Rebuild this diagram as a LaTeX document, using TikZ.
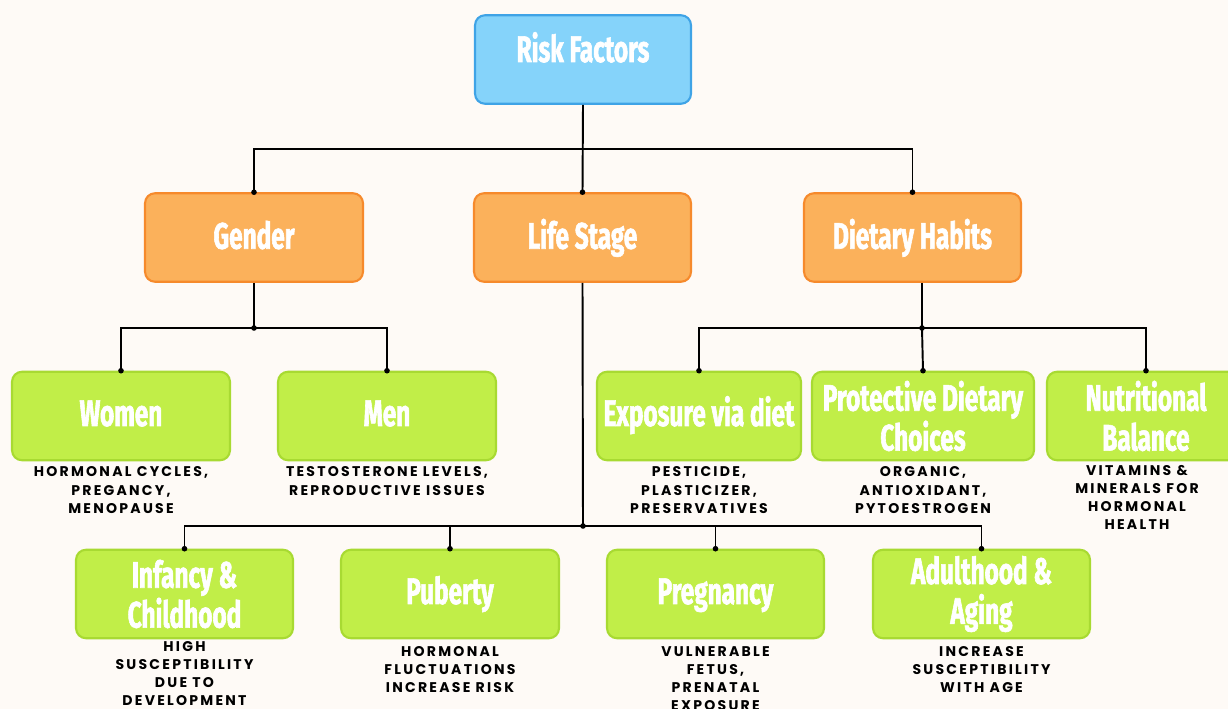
\documentclass[tikz,border=0pt]{standalone}
\usepackage{fontspec}
\newfontfamily\titlefont[FakeStretch=0.66, BoldFeatures={FakeBold=1.6}]{Fira Sans}
\newfontfamily\descfont[LetterSpace=16]{Poppins}

\definecolor{bgcol}{HTML}{FEFAF6}
\definecolor{bluefill}{HTML}{85D3FA}
\definecolor{blueline}{HTML}{3FA3E6}
\definecolor{orangefill}{HTML}{FBB15B}
\definecolor{orangeline}{HTML}{F68A2C}
\definecolor{greenfill}{HTML}{C1EE48}
\definecolor{greenline}{HTML}{A8DA32}

\tikzset{
  box/.style={rounded corners=0.2cm, line width=1.2pt, minimum height=1.77cm,
    align=center, text=white, inner sep=0pt,
    font=\titlefont\bfseries\fontsize{21}{22.7}\selectfont,
    text height=0.5cm, text depth=0.1cm},
  bluebox/.style={box, fill=bluefill, draw=blueline, text depth=0.4cm},
  orangebox/.style={box, fill=orangefill, draw=orangeline, text depth=0.05cm},
  greenbox/.style={box, fill=greenfill, draw=greenline},
  twolines/.style={text height={}, text depth={}},
  desc/.style={align=center, inner sep=0pt,
    font=\descfont\bfseries\fontsize{8}{10.3}\selectfont},
  link/.style={line width=1.1pt, black}
}

\begin{document}
\begin{tikzpicture}[x=0.02cm, y=-0.02cm]
\useasboundingbox (0,0) rectangle (1228,709);
\clip (0,0) rectangle (1228,709);
\fill [bgcol] (0,0) rectangle (1228,709);

% boxes
\node [bluebox, minimum width=4.32cm] (risk) at (583,59.5) {Risk Factors};

\node [orangebox, minimum width=4.36cm] (gender) at (254,237.5) {Gender};
\node [orangebox, minimum width=4.34cm] (life) at (582.5,237.5) {Life Stage};
\node [orangebox, minimum width=4.34cm] (diet) at (912.5,237.5) {Dietary Habits};

\node [greenbox, minimum width=4.36cm] (women) at (121,416) {Women};
\node [greenbox, minimum width=4.36cm] (men) at (387,416) {Men};
\node [greenbox, minimum width=4.08cm] (expo) at (699,416) {Exposure via diet};
\node [greenbox, twolines, minimum width=4.44cm] (prot) at (923,416) {Protective Dietary\\Choices};
\node [greenbox, twolines, minimum width=3.96cm] (nutr) at (1146,416) {Nutritional\\Balance};

\node [greenbox, twolines, minimum width=4.34cm] (infancy) at (184.5,594) {Infancy \&\\Childhood};
\node [greenbox, minimum width=4.36cm] (puberty) at (450,594) {Puberty};
\node [greenbox, minimum width=4.34cm] (pregnancy) at (715.5,594) {Pregnancy};
\node [greenbox, twolines, minimum width=4.34cm] (adult) at (981.5,594) {Adulthood \&\\Aging};

% notes under the boxes
\node [desc, below=3pt] (womennote) at (women.south) {HORMONAL CYCLES,\\PREGANCY,\\MENOPAUSE};
\node [desc, below=3pt] (mennote) at (men.south) {TESTOSTERONE LEVELS,\\REPRODUCTIVE ISSUES};
\node [desc, below=3pt] (exponote) at (expo.south) {PESTICIDE,\\PLASTICIZER,\\PRESERVATIVES};
\node [desc, below=3pt] (protnote) at (prot.south) {ORGANIC,\\ANTIOXIDANT,\\PYTOESTROGEN};
\node [desc, below=3pt] (nutrnote) at (1137,460) {VITAMINS \&\\MINERALS FOR\\HORMONAL\\HEALTH};
\node [desc, below=1pt] (infancynote) at (infancy.south) {HIGH\\SUSCEPTIBILITY\\DUE TO\\DEVELOPMENT};
\node [desc, below=4pt] (pubertynote) at (puberty.south) {HORMONAL\\FLUCTUATIONS\\INCREASE RISK};
\node [desc, below=4pt] (pregnancynote) at (pregnancy.south) {VULNERABLE\\FETUS,\\PRENATAL\\EXPOSURE};
\node [desc, below=4pt] (adultnote) at (adult.south) {INCREASE\\SUSCEPTIBILITY\\WITH AGE};

% connectors
\coordinate (topbus) at (583,149);
\coordinate (genbus) at (254,328);
\coordinate (dietbus) at (922,328);
\coordinate (lifebus) at (583,526);

\draw [link] (risk.south) -- (life.north);
\draw [link] (gender.north) |- (topbus) -| (diet.north);

\draw [link] (gender.south) -- (genbus);
\draw [link] (women.north) |- (genbus) -| (men.north);

\draw [link] (dietbus |- diet.south) -- (dietbus);
\draw [link] (expo.north) |- (dietbus) -| (nutr.north);
\draw [link] (dietbus) -- (prot.north);

\draw [link] (life.south) -- (lifebus);
\draw [link] (infancy.north) |- (lifebus) -| (adult.north);
\draw [link] (puberty.north) -- (puberty.north |- lifebus);
\draw [link] (pregnancy.north) -- (pregnancy.north |- lifebus);

% dots
\fill (gender.north) circle (2.8);
\fill (life.north) circle (2.8);
\fill (diet.north) circle (2.8);
\fill (genbus) circle (2.8);
\fill (dietbus) circle (2.8);
\fill (lifebus) circle (2.8);
\fill (women.north) circle (2.8);
\fill (men.north) circle (2.8);
\fill (expo.north) circle (2.8);
\fill (prot.north) circle (2.8);
\fill (nutr.north) circle (2.8);
\fill (infancy.north) circle (2.8);
\fill (puberty.north) circle (2.8);
\fill (pregnancy.north) circle (2.8);
\fill (adult.north) circle (2.8);

\end{tikzpicture}
\end{document}
